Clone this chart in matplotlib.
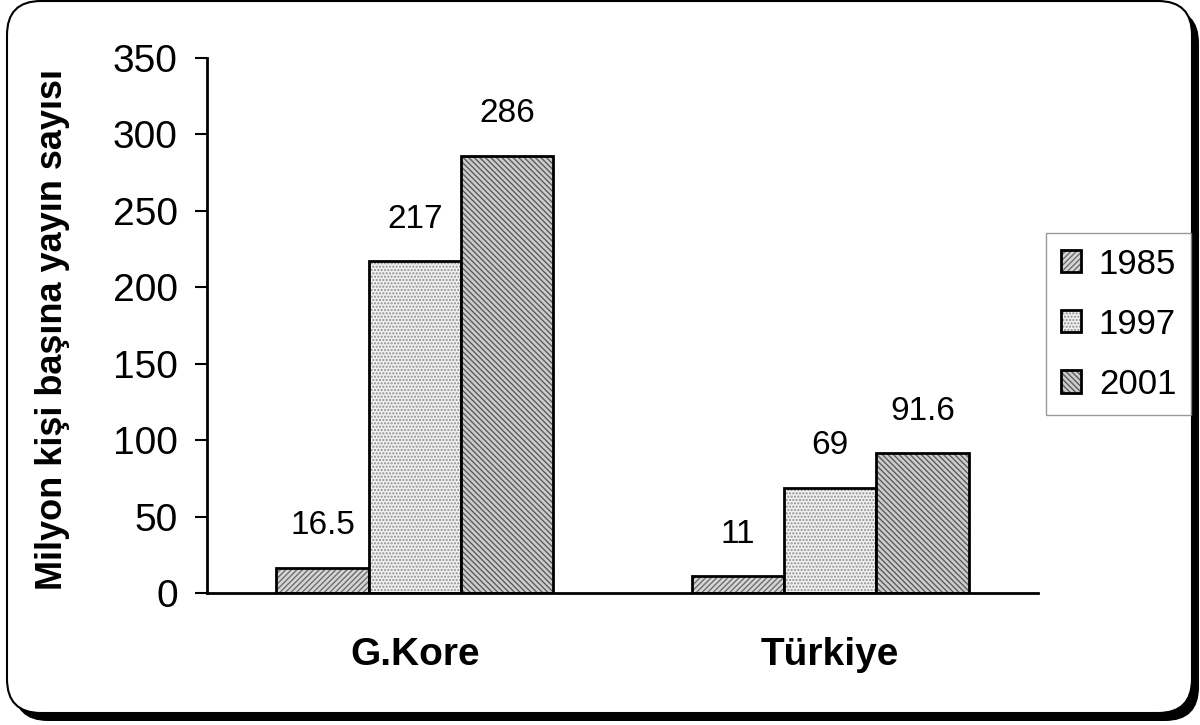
import matplotlib
matplotlib.use("Agg")
import matplotlib.pyplot as plt
import numpy as np
from matplotlib.patches import FancyBboxPatch

plt.rcParams['font.family'] = ['Liberation Sans', 'DejaVu Sans']
plt.rcParams['hatch.linewidth'] = 1.0

categories = ["G.Kore", "Türkiye"]
years = ["1985", "1997", "2001"]
values = {
    "1985": [16.5, 11],
    "1997": [217, 69],
    "2001": [286, 91.6],
}
value_labels = {
    "1985": ["16.5", "11"],
    "1997": ["217", "69"],
    "2001": ["286", "91.6"],
}
y_ticks = [0, 50, 100, 150, 200, 250, 300, 350]
y_label = "Milyon kişi başına yayın sayısı"

styles = {
    "1985": dict(facecolor="#d6d6d6", hatch="/" * 6, hatch_color="#6e6e6e"),
    "1997": dict(facecolor="#f0f0f0", hatch="." * 5, hatch_color="#8c8c8c"),
    "2001": dict(facecolor="#cdcdcd", hatch="\\" * 6, hatch_color="#5c5c5c"),
}

fig = plt.figure(figsize=(12, 7.25), dpi=100)

# rounded frame with drop shadow, in pixel units
bg = fig.add_axes([0, 0, 1, 1], zorder=0)
bg.set_xlim(0, 1200)
bg.set_ylim(725, 0)
bg.axis("off")
bg.add_patch(FancyBboxPatch((14, 9), 1185, 712, boxstyle="round,pad=0,rounding_size=34",
                            facecolor="black", edgecolor="black", lw=0))
bg.add_patch(FancyBboxPatch((7, 1), 1185, 712, boxstyle="round,pad=0,rounding_size=34",
                            facecolor="white", edgecolor="black", lw=1.5))

ax = fig.add_axes([0.1725, 0.182, 0.6925, 0.738], zorder=1)
ax.patch.set_alpha(0)

x = np.arange(len(categories))
width = 0.222
offsets = [-width, 0, width]
handles = []
for yr, off in zip(years, offsets):
    st = styles[yr]
    bars = ax.bar(x + off, values[yr], width, facecolor=st["facecolor"], edgecolor="black",
                  linewidth=2, hatch=st["hatch"], label=yr)
    for b in bars:
        b._hatch_color = matplotlib.colors.to_rgba(st["hatch_color"])
    handles.append(bars)
    for xi, v, lab in zip(x + off, values[yr], value_labels[yr]):
        ax.annotate(lab, (xi, v), xytext=(0, 19), textcoords="offset points",
                    ha="center", va="bottom", fontsize=24)

ax.set_xlim(-0.5, 1.5)
ax.set_ylim(0, 350)
ax.set_yticks(y_ticks)
ax.tick_params(axis="y", labelsize=28, length=9, width=1.5, direction="out", pad=12)
ax.set_xticks(x)
ax.set_xticklabels(categories, fontsize=28, fontweight="bold")
ax.tick_params(axis="x", length=0, pad=32)
for s in ["top", "right"]:
    ax.spines[s].set_visible(False)
for s in ["left", "bottom"]:
    ax.spines[s].set_linewidth(2)

fig.text(0.044, 0.545, y_label, rotation=90, ha="center", va="center",
         fontsize=26, fontweight="bold")

leg = fig.legend(handles=handles, labels=years, loc="upper left",
                 bbox_to_anchor=(1046 / 1200, 1 - 233 / 725), fontsize=25,
                 frameon=True, fancybox=False, edgecolor="#808080",
                 handlelength=0.6, handleheight=0.6, handletextpad=0.5,
                 labelspacing=0.78, borderpad=0.42, borderaxespad=0)
leg.get_frame().set_linewidth(1.0)

fig.savefig("out.png", dpi=100)
